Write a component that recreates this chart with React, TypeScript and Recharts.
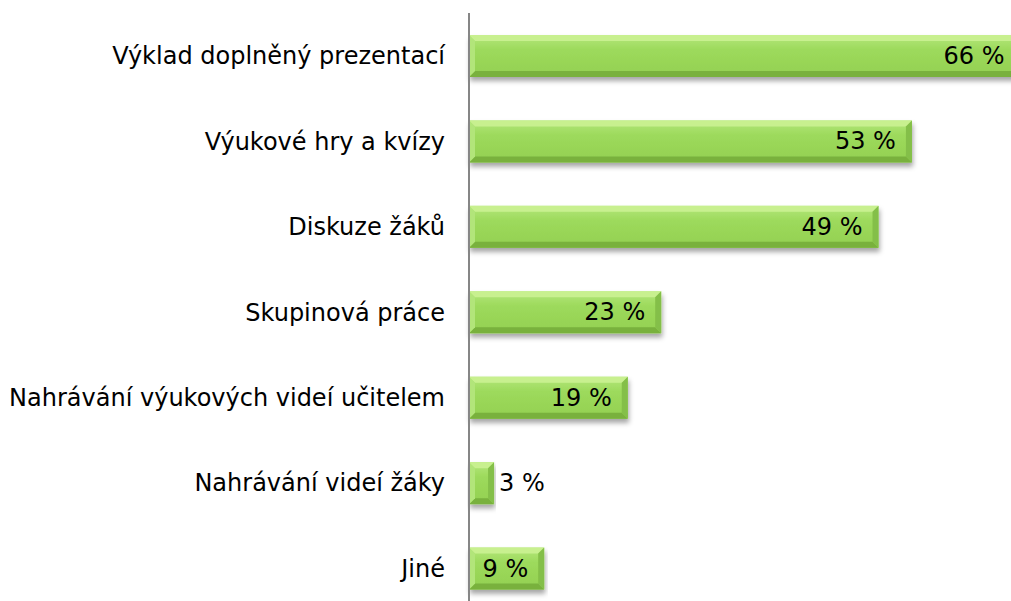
import { BarChart, Bar, XAxis, YAxis, LabelList } from "recharts";

const categories = [
  "Výklad doplněný prezentací",
  "Výukové hry a kvízy",
  "Diskuze žáků",
  "Skupinová práce",
  "Nahrávání výukových videí učitelem",
  "Nahrávání videí žáky",
  "Jiné",
];
const shares = [66, 53, 49, 23, 19, 3, 9];

const data = categories.map((name, i) => ({ name, value: shares[i] }));

const FONT = "'DejaVu Sans', Verdana, sans-serif";

// bevelled green bar like the Excel original
function BevelBar(props: any) {
  const { x, y, width, height } = props;
  if (!width || width <= 0) return null;
  const b = Math.min(6, width / 2);
  const x2 = x + width;
  const y2 = y + height;
  return (
    <g filter="url(#barShadow)">
      <rect x={x} y={y} width={width} height={height} fill="url(#barFill)" />
      <polygon points={`${x},${y} ${x2},${y} ${x2 - b},${y + b} ${x + b},${y + b}`} fill="#c8f08f" />
      <polygon points={`${x},${y2} ${x2},${y2} ${x2 - b},${y2 - b} ${x + b},${y2 - b}`} fill="#79b13e" />
      <polygon points={`${x},${y} ${x + b},${y + b} ${x + b},${y2 - b} ${x},${y2}`} fill="#b2e57a" />
      <polygon points={`${x2},${y} ${x2 - b},${y + b} ${x2 - b},${y2 - b} ${x2},${y2}`} fill="#84bf48" />
    </g>
  );
}

function ValueLabel(props: any) {
  const { x, y, width, height, value } = props;
  const inside = width > 60;
  return (
    <text
      x={inside ? x + width - 16 : x + width + 5}
      y={y + height / 2}
      textAnchor={inside ? "end" : "start"}
      dominantBaseline="central"
      fontFamily={FONT}
      fontSize={24}
      fill="#000"
    >
      {value} %
    </text>
  );
}

export default function App() {
  return (
    <div
      style={{
        position: "absolute",
        left: 0,
        top: 0,
        width: 1011,
        height: 601,
        overflow: "hidden",
        background: "#fff",
      }}
    >
      <BarChart
        layout="vertical"
        width={1054}
        height={620}
        data={data}
        margin={{ top: 13, right: 0, bottom: 9, left: 0 }}
        barSize={42}
      >
        <defs>
          <linearGradient id="barFill" x1="0" y1="0" x2="0" y2="1">
            <stop offset="0%" stopColor="#b4e77c" />
            <stop offset="35%" stopColor="#9dda5c" />
            <stop offset="100%" stopColor="#93d051" />
          </linearGradient>
          <filter id="barShadow" x="-5%" y="-20%" width="110%" height="160%">
            <feDropShadow dx="1" dy="4" stdDeviation="2.5" floodColor="#000" floodOpacity="0.35" />
          </filter>
        </defs>
        <XAxis type="number" domain={[0, 70]} hide />
        <YAxis
          type="category"
          dataKey="name"
          width={469}
          tickLine={false}
          axisLine={{ stroke: "#868686", strokeWidth: 2 }}
          tickMargin={18}
          tick={{ fontFamily: FONT, fontSize: 24, fill: "#000" }}
          interval={0}
        />
        <Bar dataKey="value" shape={<BevelBar />} isAnimationActive={false}>
          <LabelList dataKey="value" content={<ValueLabel />} />
        </Bar>
      </BarChart>
    </div>
  );
}
